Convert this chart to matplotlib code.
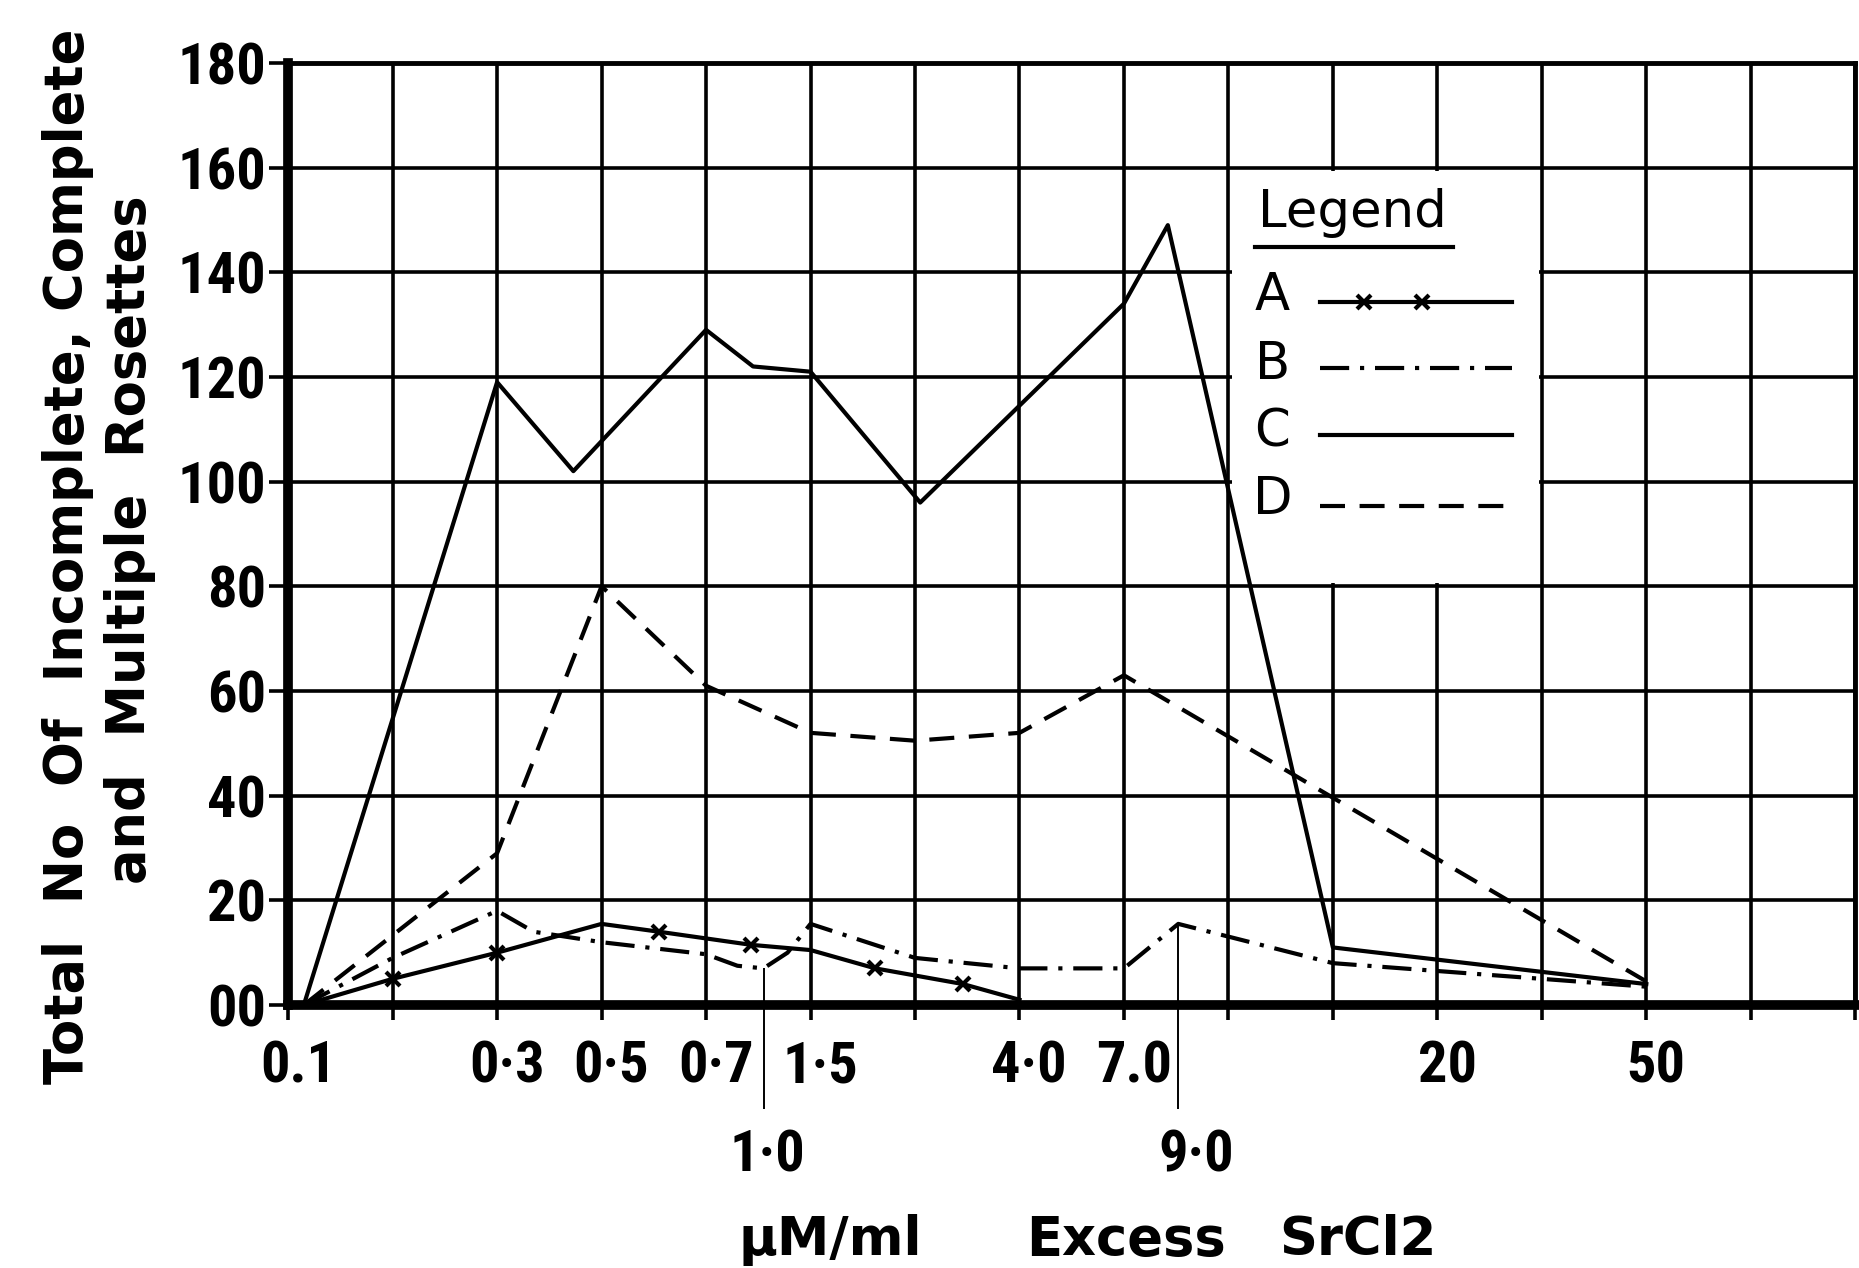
import matplotlib
matplotlib.use("Agg")
import matplotlib.pyplot as plt
import matplotlib.transforms as mtransforms
from matplotlib import font_manager as fm
from matplotlib.patches import Rectangle
import numpy as np

# narrow font for the hand lettered numbers, if there is one
names = {f.name for f in fm.fontManager.ttflist}
tick_font, tick_size = "DejaVu Sans", 33
for cand in ["Liberation Sans Narrow", "Roboto Condensed", "Open Sans Condensed"]:
    if cand in names:
        tick_font, tick_size = cand, 42
        break

# x axis: categories sit on the grid columns (not a true scale)
x_ticks = [0, 2, 3, 4, 5, 7, 8, 11, 13]
x_labels = ["0.1", "0·3", "0·5", "0·7", "1·5", "4·0", "7.0", "20", "50"]
low_ticks = [4.55, 8.52]
low_labels = ["1·0", "9·0"]

y_ticks = [0, 20, 40, 60, 80, 100, 120, 140, 160, 180]
y_labels = ["00", "20", "40", "60", "80", "100", "120", "140", "160", "180"]

# A  -x-x-
a_x = [0.15, 1, 2, 3, 3.55, 4.43, 5, 5.62, 6.46, 7]
a_y = [0, 5, 10, 15.5, 14, 11.5, 10.5, 7, 4, 1]
a_marks = [1, 2, 4, 5, 7, 8]

# B  -.-.-
b_x = [0.15, 1, 2, 2.35, 3, 4, 4.3, 4.55, 4.78, 5, 6, 7, 8, 8.52, 10, 13]
b_y = [0, 9, 18, 14, 12, 9.7, 7.5, 7, 10, 15.5, 9, 7, 7, 15.5, 8, 3.5]

# C  solid
c_x = [0.15, 2, 2.73, 4, 4.45, 5, 6.05, 8, 8.42, 10, 13]
c_y = [0, 119, 102, 129, 122, 121, 96, 134, 149, 11, 4]

# D  dashed
d_x = [0.15, 2, 3, 4, 5, 6, 7, 8, 13]
d_y = [0, 29, 80, 61, 52, 50.5, 52, 63, 4.5]

W, H = 1859, 1268
fig = plt.figure(figsize=(W / 100, H / 100), dpi=100)
ax = fig.add_axes([0.155, 0.2074, 0.843, 0.743])
ax.set_xlim(0, 15)
ax.set_ylim(0, 180)

lw = 2.6      # grid
dlw = 3.0     # curves
dash_b = (7, 2.6, 1, 2.6)
dash_d = (6, 3.5)

# grid
ax.set_axisbelow(True)
ax.set_xticks(range(16))
lab = dict(zip(x_ticks, x_labels))
ax.set_xticklabels([lab.get(i, "") for i in range(16)],
                   fontfamily=tick_font, fontsize=tick_size, fontweight="bold")
ax.set_xticks(low_ticks, low_labels, minor=True,
              fontfamily=tick_font, fontsize=tick_size, fontweight="bold")
ax.set_yticks(y_ticks)
ax.set_yticklabels(y_labels, fontfamily=tick_font, fontsize=tick_size, fontweight="bold")
ax.grid(True, which="major", color="black", lw=lw)
ax.tick_params(axis="x", which="major", direction="out", length=11, width=lw, pad=14)
ax.tick_params(axis="x", which="minor", direction="out", length=75, width=1.4, pad=14)
ax.tick_params(axis="y", direction="out", length=14, width=lw, pad=2)
for s in ["left", "bottom"]:
    ax.spines[s].set_linewidth(7)
for s in ["top", "right"]:
    ax.spines[s].set_linewidth(3.5)

# tick labels sit a bit right of their lines
for t in ax.get_xticklabels():
    t.set_transform(t.get_transform() + mtransforms.ScaledTranslation(7 / 72, 0, fig.dpi_scale_trans))
for t, dx in zip(ax.get_xticklabels(minor=True), [3, 13]):
    t.set_transform(t.get_transform() + mtransforms.ScaledTranslation(dx / 72, 0, fig.dpi_scale_trans))

# drop lines to the 1.0 and 9.0 labels
ax.vlines(low_ticks, 0, np.interp(low_ticks, b_x, b_y), color="black", lw=1.4, zorder=2)

# legend box hides the grid
ax.add_patch(Rectangle((9.03, 80.6), 2.94, 78.8, facecolor="white", edgecolor="none", zorder=1))

ax.plot(a_x, a_y, color="black", lw=dlw, marker="x", ms=10, mew=3, markevery=a_marks, zorder=3)
ax.plot(b_x, b_y, color="black", lw=dlw, dashes=dash_b, zorder=3)
ax.plot(c_x, c_y, color="black", lw=dlw, zorder=3)
ax.plot(d_x, d_y, color="black", lw=dlw, dashes=dash_d, zorder=3)

# hand drawn legend
ax.text(9.28, 148.6, "Legend", fontsize=37, ha="left", va="baseline", zorder=4)
ax.plot([9.25, 11.15], [144.8, 144.8], color="black", lw=3, zorder=4)
rows = [("A", 135.5), ("B", 122.3), ("C", 109.4), ("D", 96.5)]
for letter, yy in rows:
    ax.text(9.42, yy, letter, fontsize=37, ha="center", va="center", zorder=4)
ax.plot([9.88, 10.3, 10.85, 11.71], [134.4] * 4, color="black", lw=dlw,
        marker="x", ms=10, mew=3, markevery=[1, 2], zorder=4)
ax.plot([9.88, 11.71], [121.8] * 2, color="black", lw=dlw, dashes=dash_b, zorder=4)
ax.plot([9.88, 11.71], [109] * 2, color="black", lw=dlw, zorder=4)
ax.plot([9.88, 11.71], [95.3] * 2, color="black", lw=dlw, dashes=dash_d, zorder=4)

# axis titles
fig.text(68 / W, 1 - 556 / H, "Total  No  Of  Incomplete, Complete",
         rotation=90, ha="center", va="center", fontsize=38, fontweight="bold")
fig.text(130 / W, 1 - 540 / H, "and  Multiple  Rosettes",
         rotation=90, ha="center", va="center", fontsize=38, fontweight="bold")
for word, xc in [("μM/ml", 830), ("Excess", 1126), ("SrCl2", 1358)]:
    fig.text(xc / W, 1 - 1255 / H, word, ha="center", va="baseline",
             fontsize=38, fontweight="bold")

fig.savefig("out.png", dpi=100, facecolor="white")
